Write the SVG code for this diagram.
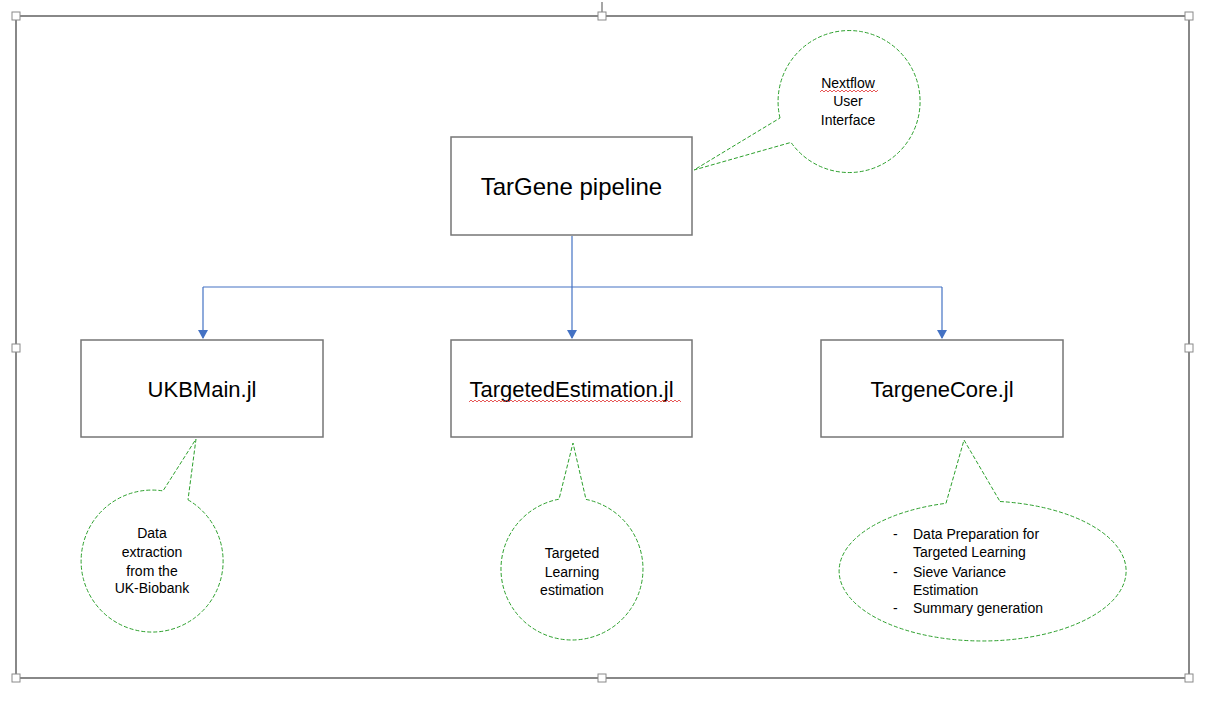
<svg xmlns="http://www.w3.org/2000/svg" width="1215" height="701" viewBox="0 0 1215 701">
<style>
.frame{fill:none;stroke:#6b6b6b;stroke-width:1.6}
.handle{fill:#ffffff;stroke:#8a8a8a;stroke-width:1}
.box{fill:#ffffff;stroke:#767676;stroke-width:1.5}
.title{font-family:"Liberation Sans",Arial,sans-serif;fill:#000;text-anchor:middle}
.callout{fill:#ffffff;stroke:#2ca02c;stroke-width:1;stroke-dasharray:4 2}
.note{font-family:"Liberation Sans",Arial,sans-serif;font-size:14px;fill:#000}
.conn{fill:none;stroke:#4472c4;stroke-width:1.2}
.squiggle{fill:none;stroke:#e03030;stroke-width:0.8}
</style>
<defs>
<marker id="arrow" markerWidth="10" markerHeight="10" refX="5" refY="8" orient="0" markerUnits="userSpaceOnUse">
<path d="M0,0 L10,0 L5,9 Z" fill="#4472c4"/>
</marker>
</defs>
<rect width="1215" height="701" fill="#ffffff"/>

<g id="frame">
<rect class="frame" x="16" y="16" width="1173" height="662"/>
<line x1="602" y1="2" x2="602" y2="12" stroke="#6b6b6b" stroke-width="1.2"/>
<rect class="handle" x="12" y="12" width="8" height="8"/>
<rect class="handle" x="598" y="12" width="8" height="8"/>
<rect class="handle" x="1185" y="12" width="8" height="8"/>
<rect class="handle" x="12" y="344" width="8" height="8"/>
<rect class="handle" x="1185" y="344" width="8" height="8"/>
<rect class="handle" x="12" y="674" width="8" height="8"/>
<rect class="handle" x="598" y="674" width="8" height="8"/>
<rect class="handle" x="1185" y="674" width="8" height="8"/>
</g>

<g id="connectors">
<path class="conn" d="M572,236 V287"/>
<path class="conn" d="M203,287 H942"/>
<path class="conn" d="M203,287 V338" marker-end="url(#arrow)"/>
<path class="conn" d="M572,287 V338" marker-end="url(#arrow)"/>
<path class="conn" d="M942,287 V338" marker-end="url(#arrow)"/>
</g>

<g id="node-targene">
<rect class="box" x="451" y="137" width="241" height="98"/>
<text class="title" x="571.5" y="195" font-size="24">TarGene pipeline</text>
</g>

<g id="node-ukbmain">
<rect class="box" x="81" y="340" width="242" height="97"/>
<text class="title" x="202" y="397" font-size="22">UKBMain.jl</text>
</g>

<g id="node-targetedestimation">
<rect class="box" x="451" y="340" width="241" height="97"/>
<text class="title" x="571.5" y="397" font-size="22">TargetedEstimation.jl</text>
<path class="squiggle" d="M469,402 l2,-2 l2,2 l2,-2 l2,2 l2,-2 l2,2 l2,-2 l2,2 l2,-2 l2,2 l2,-2 l2,2 l2,-2 l2,2 l2,-2 l2,2 l2,-2 l2,2 l2,-2 l2,2 l2,-2 l2,2 l2,-2 l2,2 l2,-2 l2,2 l2,-2 l2,2 l2,-2 l2,2 l2,-2 l2,2 l2,-2 l2,2 l2,-2 l2,2 l2,-2 l2,2 l2,-2 l2,2 l2,-2 l2,2 l2,-2 l2,2 l2,-2 l2,2 l2,-2 l2,2 l2,-2 l2,2 l2,-2 l2,2 l2,-2 l2,2 l2,-2 l2,2 l2,-2 l2,2 l2,-2 l2,2 l2,-2 l2,2 l2,-2 l2,2 l2,-2 l2,2 l2,-2 l2,2 l2,-2 l2,2 l2,-2 l2,2 l2,-2 l2,2 l2,-2 l2,2 l2,-2 l2,2 l2,-2 l2,2 l2,-2 l2,2 l2,-2 l2,2 l2,-2 l2,2 l2,-2 l2,2 l2,-2 l2,2 l2,-2 l2,2 l2,-2 l2,2 l2,-2 l2,2 l2,-2 l2,2 l2,-2 l2,2 l2,-2 l2,2 l2,-2 l2,2 l2,-2 l2,2"/>
</g>

<g id="node-targenecore">
<rect class="box" x="821" y="340" width="242" height="97"/>
<text class="title" x="942" y="397" font-size="22">TargeneCore.jl</text>
</g>

<g id="callout-nextflow">
<path class="callout" d="M780,118 A71,71 0 1 1 791,142.4 L694,170 Z"/>
<text class="note" text-anchor="middle" x="848" y="88">Nextflow</text>
<text class="note" text-anchor="middle" x="848" y="106">User</text>
<text class="note" text-anchor="middle" x="848" y="125">Interface</text>
<path class="squiggle" d="M820,92 l2,-2 l2,2 l2,-2 l2,2 l2,-2 l2,2 l2,-2 l2,2 l2,-2 l2,2 l2,-2 l2,2 l2,-2 l2,2 l2,-2 l2,2 l2,-2 l2,2 l2,-2 l2,2 l2,-2 l2,2 l2,-2 l2,2 l2,-2 l2,2 l2,-2 l2,2 l2,-2"/>
</g>

<g id="callout-ukb">
<path class="callout" d="M188,499.8 A71,71 0 1 1 163,490.9 L196,439 Z"/>
<text class="note" text-anchor="middle" x="152" y="538">Data</text>
<text class="note" text-anchor="middle" x="152" y="557">extraction</text>
<text class="note" text-anchor="middle" x="152" y="576">from the</text>
<text class="note" text-anchor="middle" x="152" y="593">UK-Biobank</text>
</g>

<g id="callout-tl">
<path class="callout" d="M586,499.4 A71,71 0 1 1 559,499.2 L573,443 Z"/>
<text class="note" text-anchor="middle" x="572" y="558">Targeted</text>
<text class="note" text-anchor="middle" x="572" y="577">Learning</text>
<text class="note" text-anchor="middle" x="572" y="595">estimation</text>
</g>

<g id="callout-core">
<path class="callout" d="M1000,501.5 A143.5,70 0 1 1 946,503.3 L964,440 Z"/>
<text class="note" x="893" y="539">-</text>
<text class="note" x="913" y="539">Data Preparation for</text>
<text class="note" x="913" y="557">Targeted Learning</text>
<text class="note" x="893" y="577">-</text>
<text class="note" x="913" y="577">Sieve Variance</text>
<text class="note" x="913" y="595">Estimation</text>
<text class="note" x="893" y="613">-</text>
<text class="note" x="913" y="613">Summary generation</text>
</g>
</svg>
